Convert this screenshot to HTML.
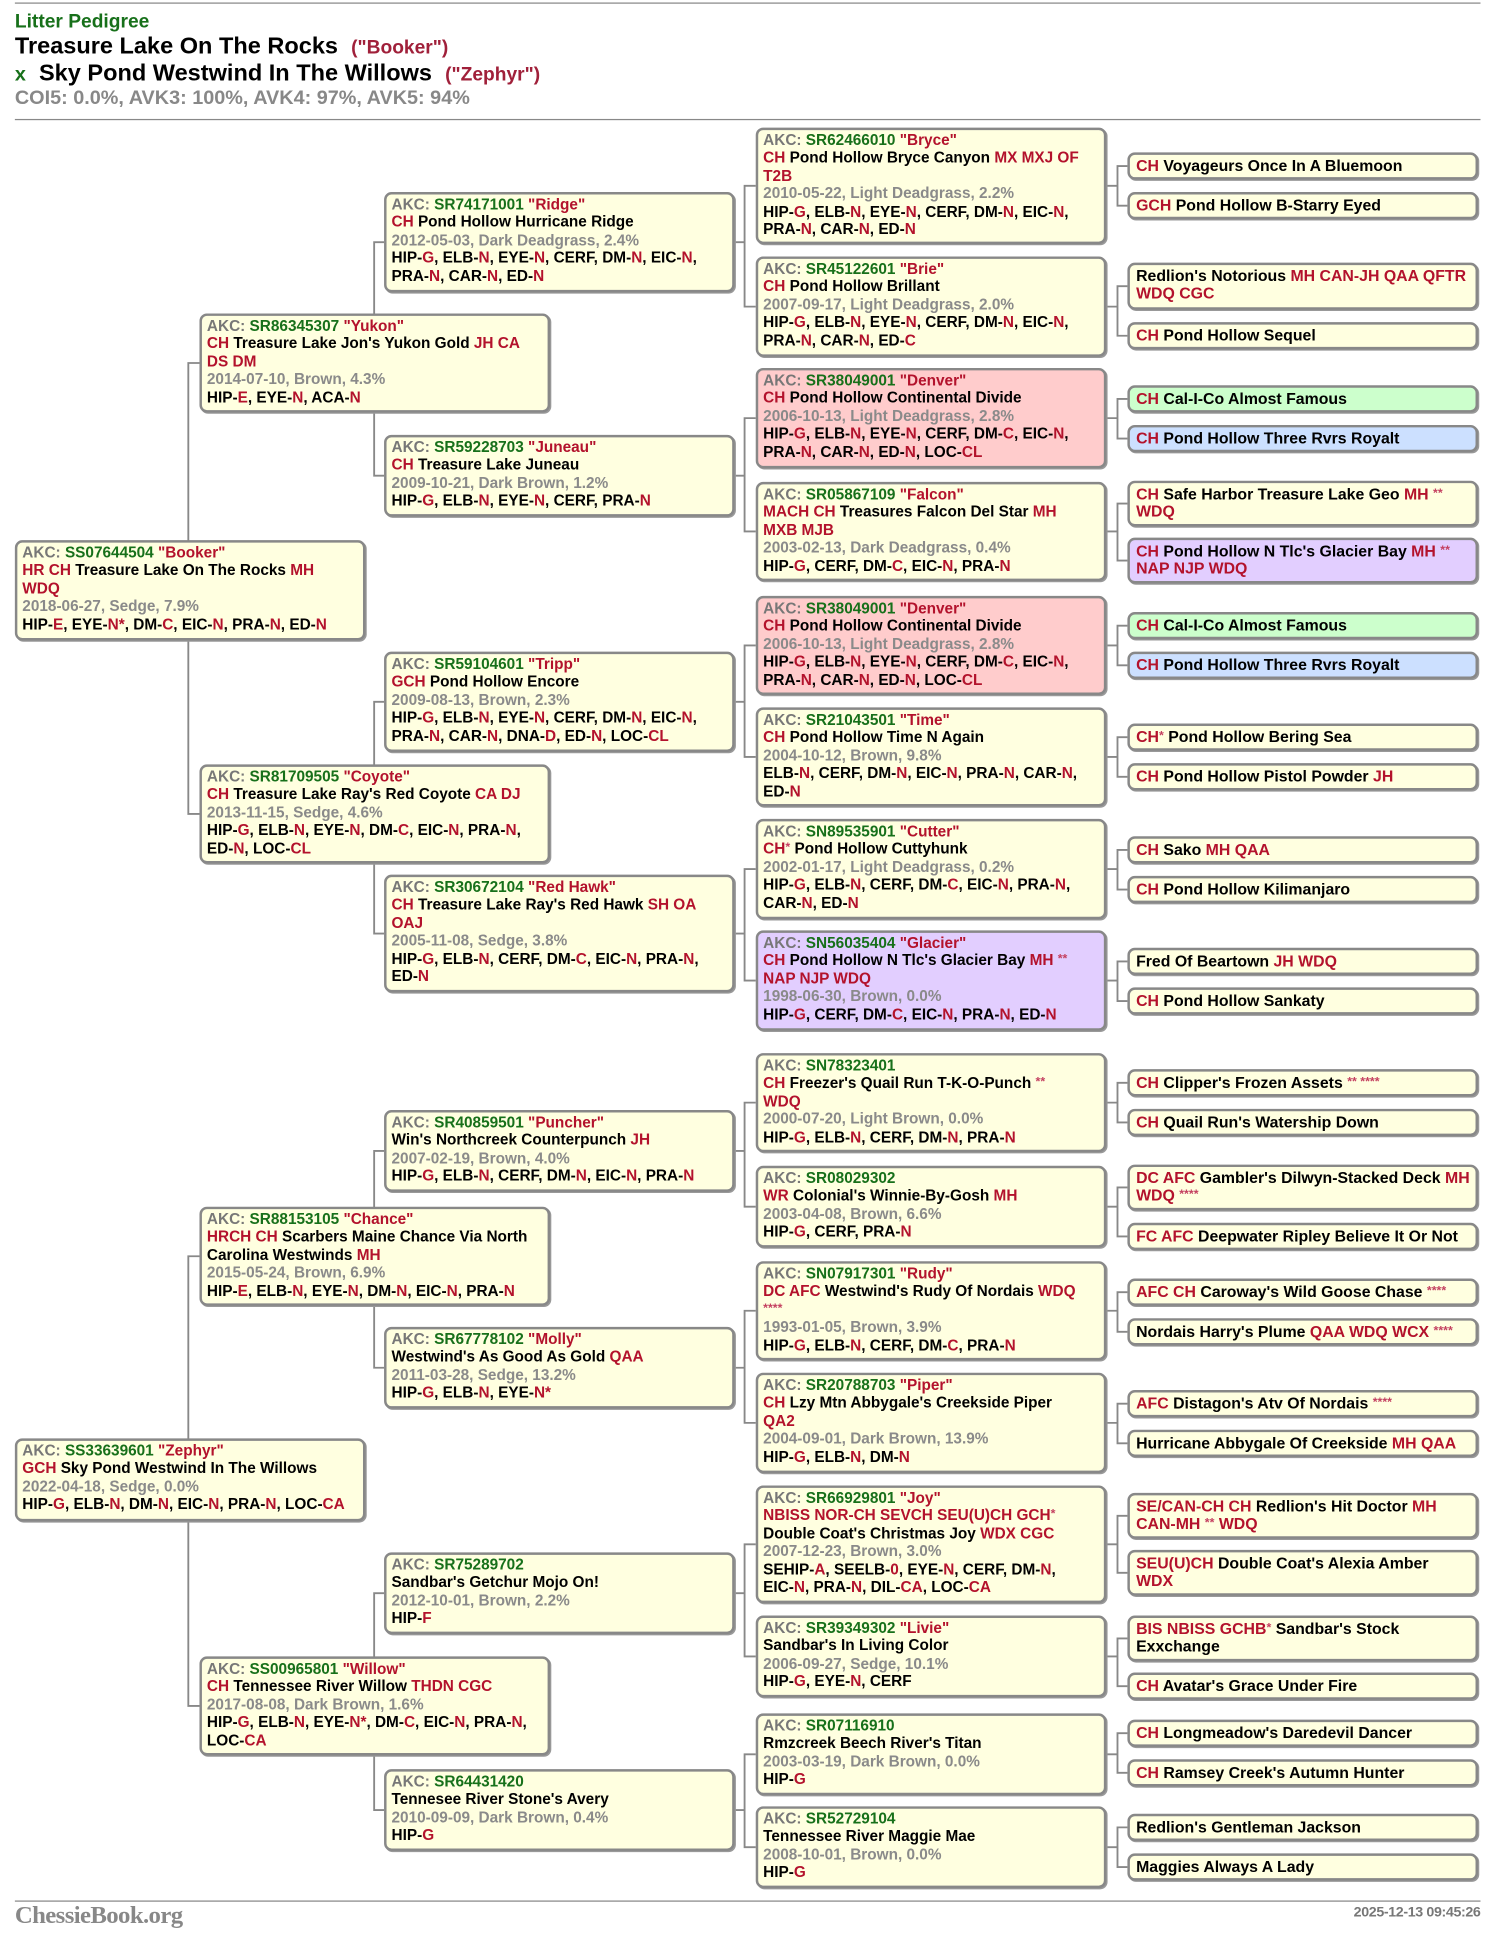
<!DOCTYPE html>
<html><head><meta charset="utf-8"><style>
html,body{margin:0;padding:0;background:#fff;}
body{width:1499px;height:1948px;overflow:hidden;}
#w{position:absolute;left:0;top:0;width:1210px;height:1573px;transform:scale(1.2389);transform-origin:0 0;font-family:"Liberation Sans",Arial,sans-serif;font-weight:bold;}
.b{position:absolute;box-sizing:border-box;width:283px;border:2px solid #888;border-radius:6px;background:#ffffe0;box-shadow:1px 1px 0 #999;padding:1px 3px 0 4px;font-size:12.4px;line-height:14.4px;letter-spacing:0;white-space:nowrap;color:#000;overflow:hidden;}
.p{background:#ffcccc}.v{background:#e2ceff}.gr{background:#ccffcc}.bl{background:#cce0ff}
.f5{padding-top:2px;font-size:12.8px;padding-left:5px;}
.r{color:#b3122c}.g{color:#17701a}.k{color:#777}.d{color:#8a8a8a}.s{color:#c44060;font-size:10px;vertical-align:top;}
svg{position:absolute;left:0;top:0;}
.hd{position:absolute;left:12px;}
</style></head><body><div id="w">
<div style="position:absolute;left:12px;top:2px;width:1183px;border-top:1px solid #888"></div>
<div class="hd" style="top:9px;font-size:15.5px;color:#17701a">Litter Pedigree</div>
<div class="hd" style="top:27px;font-size:19px;">Treasure Lake On The Rocks&nbsp; <span style="font-size:15.5px;color:#a0203a">("Booker")</span></div>
<div class="hd" style="top:49px;font-size:19px;"><span class="g" style="font-size:16px">x</span>&nbsp; Sky Pond Westwind In The Willows&nbsp; <span style="font-size:15.5px;color:#a0203a">("Zephyr")</span></div>
<div class="hd" style="top:71px;font-size:16px;color:#888">COI5: 0.0%, AVK3: 100%, AVK4: 97%, AVK5: 94%</div>
<div style="position:absolute;left:12px;top:96px;width:1183px;border-top:1px solid #888"></div>

<svg width="1210" height="1573" stroke="#888" stroke-width="1.5" fill="none">
<path d="M161 293H152V657H161 M161 1014H152V1377H161"/>
<path d="M310 195.5H302V384H310 M310 566.5H302V753.5H310 M310 929H302V1104H310 M310 1286H302V1461H310"/>
<path d="M593 195.5H601 M593 384H601 M593 566.5H601 M593 753.5H601 M593 929H601 M593 1104H601 M593 1286H601 M593 1461H601"/>
<path d="M610 150H601V247.5H610 M610 337.5H601V429H610 M610 521H601V611H610 M610 701.5H601V791.5H610 M610 890H601V974H610 M610 1058H601V1148.5H610 M610 1246.5H601V1337H610 M610 1416H601V1491H610"/>
<path d="M893 150H902 M893 247.5H902 M893 337.5H902 M893 429H902 M893 521H902 M893 611H902 M893 701.5H902 M893 791.5H902 M893 890H902 M893 974H902 M893 1058H902 M893 1148.5H902 M893 1246.5H902 M893 1337H902 M893 1416H902 M893 1491H902"/>
<path d="M910 134H902V166H910 M910 231H902V271H910 M910 322H902V354H910 M910 406.5H902V452.5H910 M910 505H902V537H910 M910 595H902V627H910 M910 686H902V718H910 M910 776H902V808H910 M910 874H902V906H910 M910 958.5H902V998H910 M910 1043H902V1075H910 M910 1133H902V1165H910 M910 1223.5H902V1269.5H910 M910 1322.5H902V1361H910 M910 1399H902V1431H910 M910 1475H902V1507H910"/>
</svg>

<!-- Gen1 -->
<div class="b" style="left:12px;top:436px;height:81px"><span class="k">AKC: </span><span class="g">SS07644504</span> <span class="r">"Booker"</span><br><span class="r">HR CH</span> Treasure Lake On The Rocks <span class="r">MH</span><br><span class="r">WDQ</span><br><span class="d">2018-06-27, Sedge, 7.9%</span><br>HIP-<span class="r">E</span>, EYE-<span class="r">N*</span>, DM-<span class="r">C</span>, EIC-<span class="r">N</span>, PRA-<span class="r">N</span>, ED-<span class="r">N</span></div>
<div class="b" style="left:12px;top:1161px;height:67px"><span class="k">AKC: </span><span class="g">SS33639601</span> <span class="r">"Zephyr"</span><br><span class="r">GCH</span> Sky Pond Westwind In The Willows<br><span class="d">2022-04-18, Sedge, 0.0%</span><br>HIP-<span class="r">G</span>, ELB-<span class="r">N</span>, DM-<span class="r">N</span>, EIC-<span class="r">N</span>, PRA-<span class="r">N</span>, LOC-<span class="r">CA</span></div>

<!-- Gen2 -->
<div class="b" style="left:161px;top:253px;height:80px"><span class="k">AKC: </span><span class="g">SR86345307</span> <span class="r">"Yukon"</span><br><span class="r">CH</span> Treasure Lake Jon's Yukon Gold <span class="r">JH CA</span><br><span class="r">DS DM</span><br><span class="d">2014-07-10, Brown, 4.3%</span><br>HIP-<span class="r">E</span>, EYE-<span class="r">N</span>, ACA-<span class="r">N</span></div>
<div class="b" style="left:161px;top:617px;height:80px"><span class="k">AKC: </span><span class="g">SR81709505</span> <span class="r">"Coyote"</span><br><span class="r">CH</span> Treasure Lake Ray's Red Coyote <span class="r">CA DJ</span><br><span class="d">2013-11-15, Sedge, 4.6%</span><br>HIP-<span class="r">G</span>, ELB-<span class="r">N</span>, EYE-<span class="r">N</span>, DM-<span class="r">C</span>, EIC-<span class="r">N</span>, PRA-<span class="r">N</span>,<br>ED-<span class="r">N</span>, LOC-<span class="r">CL</span></div>
<div class="b" style="left:161px;top:974px;height:80px"><span class="k">AKC: </span><span class="g">SR88153105</span> <span class="r">"Chance"</span><br><span class="r">HRCH CH</span> Scarbers Maine Chance Via North<br>Carolina Westwinds <span class="r">MH</span><br><span class="d">2015-05-24, Brown, 6.9%</span><br>HIP-<span class="r">E</span>, ELB-<span class="r">N</span>, EYE-<span class="r">N</span>, DM-<span class="r">N</span>, EIC-<span class="r">N</span>, PRA-<span class="r">N</span></div>
<div class="b" style="left:161px;top:1337px;height:80px"><span class="k">AKC: </span><span class="g">SS00965801</span> <span class="r">"Willow"</span><br><span class="r">CH</span> Tennessee River Willow <span class="r">THDN CGC</span><br><span class="d">2017-08-08, Dark Brown, 1.6%</span><br>HIP-<span class="r">G</span>, ELB-<span class="r">N</span>, EYE-<span class="r">N*</span>, DM-<span class="r">C</span>, EIC-<span class="r">N</span>, PRA-<span class="r">N</span>,<br>LOC-<span class="r">CA</span></div>

<!-- Gen3 -->
<div class="b" style="left:310px;top:155px;height:81px"><span class="k">AKC: </span><span class="g">SR74171001</span> <span class="r">"Ridge"</span><br><span class="r">CH</span> Pond Hollow Hurricane Ridge<br><span class="d">2012-05-03, Dark Deadgrass, 2.4%</span><br>HIP-<span class="r">G</span>, ELB-<span class="r">N</span>, EYE-<span class="r">N</span>, CERF, DM-<span class="r">N</span>, EIC-<span class="r">N</span>,<br>PRA-<span class="r">N</span>, CAR-<span class="r">N</span>, ED-<span class="r">N</span></div>
<div class="b" style="left:310px;top:351px;height:66px"><span class="k">AKC: </span><span class="g">SR59228703</span> <span class="r">"Juneau"</span><br><span class="r">CH</span> Treasure Lake Juneau<br><span class="d">2009-10-21, Dark Brown, 1.2%</span><br>HIP-<span class="r">G</span>, ELB-<span class="r">N</span>, EYE-<span class="r">N</span>, CERF, PRA-<span class="r">N</span></div>
<div class="b" style="left:310px;top:526px;height:81px"><span class="k">AKC: </span><span class="g">SR59104601</span> <span class="r">"Tripp"</span><br><span class="r">GCH</span> Pond Hollow Encore<br><span class="d">2009-08-13, Brown, 2.3%</span><br>HIP-<span class="r">G</span>, ELB-<span class="r">N</span>, EYE-<span class="r">N</span>, CERF, DM-<span class="r">N</span>, EIC-<span class="r">N</span>,<br>PRA-<span class="r">N</span>, CAR-<span class="r">N</span>, DNA-<span class="r">D</span>, ED-<span class="r">N</span>, LOC-<span class="r">CL</span></div>
<div class="b" style="left:310px;top:706px;height:95px"><span class="k">AKC: </span><span class="g">SR30672104</span> <span class="r">"Red Hawk"</span><br><span class="r">CH</span> Treasure Lake Ray's Red Hawk <span class="r">SH OA</span><br><span class="r">OAJ</span><br><span class="d">2005-11-08, Sedge, 3.8%</span><br>HIP-<span class="r">G</span>, ELB-<span class="r">N</span>, CERF, DM-<span class="r">C</span>, EIC-<span class="r">N</span>, PRA-<span class="r">N</span>,<br>ED-<span class="r">N</span></div>
<div class="b" style="left:310px;top:896px;height:66px"><span class="k">AKC: </span><span class="g">SR40859501</span> <span class="r">"Puncher"</span><br>Win's Northcreek Counterpunch <span class="r">JH</span><br><span class="d">2007-02-19, Brown, 4.0%</span><br>HIP-<span class="r">G</span>, ELB-<span class="r">N</span>, CERF, DM-<span class="r">N</span>, EIC-<span class="r">N</span>, PRA-<span class="r">N</span></div>
<div class="b" style="left:310px;top:1071px;height:66px"><span class="k">AKC: </span><span class="g">SR67778102</span> <span class="r">"Molly"</span><br>Westwind's As Good As Gold <span class="r">QAA</span><br><span class="d">2011-03-28, Sedge, 13.2%</span><br>HIP-<span class="r">G</span>, ELB-<span class="r">N</span>, EYE-<span class="r">N*</span></div>
<div class="b" style="left:310px;top:1253px;height:66px"><span class="k">AKC: </span><span class="g">SR75289702</span><br>Sandbar's Getchur Mojo On!<br><span class="d">2012-10-01, Brown, 2.2%</span><br>HIP-<span class="r">F</span></div>
<div class="b" style="left:310px;top:1428px;height:66px"><span class="k">AKC: </span><span class="g">SR64431420</span><br>Tennesee River Stone's Avery<br><span class="d">2010-09-09, Dark Brown, 0.4%</span><br>HIP-<span class="r">G</span></div>

<!-- Gen4 -->
<div class="b" style="left:610px;top:103px;height:94px"><span class="k">AKC: </span><span class="g">SR62466010</span> <span class="r">"Bryce"</span><br><span class="r">CH</span> Pond Hollow Bryce Canyon <span class="r">MX MXJ OF</span><br><span class="r">T2B</span><br><span class="d">2010-05-22, Light Deadgrass, 2.2%</span><br>HIP-<span class="r">G</span>, ELB-<span class="r">N</span>, EYE-<span class="r">N</span>, CERF, DM-<span class="r">N</span>, EIC-<span class="r">N</span>,<br>PRA-<span class="r">N</span>, CAR-<span class="r">N</span>, ED-<span class="r">N</span></div>
<div class="b" style="left:610px;top:207px;height:81px"><span class="k">AKC: </span><span class="g">SR45122601</span> <span class="r">"Brie"</span><br><span class="r">CH</span> Pond Hollow Brillant<br><span class="d">2007-09-17, Light Deadgrass, 2.0%</span><br>HIP-<span class="r">G</span>, ELB-<span class="r">N</span>, EYE-<span class="r">N</span>, CERF, DM-<span class="r">N</span>, EIC-<span class="r">N</span>,<br>PRA-<span class="r">N</span>, CAR-<span class="r">N</span>, ED-<span class="r">C</span></div>
<div class="b p" style="left:610px;top:297px;height:81px"><span class="k">AKC: </span><span class="g">SR38049001</span> <span class="r">"Denver"</span><br><span class="r">CH</span> Pond Hollow Continental Divide<br><span class="d">2006-10-13, Light Deadgrass, 2.8%</span><br>HIP-<span class="r">G</span>, ELB-<span class="r">N</span>, EYE-<span class="r">N</span>, CERF, DM-<span class="r">C</span>, EIC-<span class="r">N</span>,<br>PRA-<span class="r">N</span>, CAR-<span class="r">N</span>, ED-<span class="r">N</span>, LOC-<span class="r">CL</span></div>
<div class="b" style="left:610px;top:389px;height:80px"><span class="k">AKC: </span><span class="g">SR05867109</span> <span class="r">"Falcon"</span><br><span class="r">MACH CH</span> Treasures Falcon Del Star <span class="r">MH</span><br><span class="r">MXB MJB</span><br><span class="d">2003-02-13, Dark Deadgrass, 0.4%</span><br>HIP-<span class="r">G</span>, CERF, DM-<span class="r">C</span>, EIC-<span class="r">N</span>, PRA-<span class="r">N</span></div>
<div class="b p" style="left:610px;top:481px;height:80px"><span class="k">AKC: </span><span class="g">SR38049001</span> <span class="r">"Denver"</span><br><span class="r">CH</span> Pond Hollow Continental Divide<br><span class="d">2006-10-13, Light Deadgrass, 2.8%</span><br>HIP-<span class="r">G</span>, ELB-<span class="r">N</span>, EYE-<span class="r">N</span>, CERF, DM-<span class="r">C</span>, EIC-<span class="r">N</span>,<br>PRA-<span class="r">N</span>, CAR-<span class="r">N</span>, ED-<span class="r">N</span>, LOC-<span class="r">CL</span></div>
<div class="b" style="left:610px;top:571px;height:80px"><span class="k">AKC: </span><span class="g">SR21043501</span> <span class="r">"Time"</span><br><span class="r">CH</span> Pond Hollow Time N Again<br><span class="d">2004-10-12, Brown, 9.8%</span><br>ELB-<span class="r">N</span>, CERF, DM-<span class="r">N</span>, EIC-<span class="r">N</span>, PRA-<span class="r">N</span>, CAR-<span class="r">N</span>,<br>ED-<span class="r">N</span></div>
<div class="b" style="left:610px;top:661px;height:81px"><span class="k">AKC: </span><span class="g">SN89535901</span> <span class="r">"Cutter"</span><br><span class="r">CH<span class="s">*</span></span> Pond Hollow Cuttyhunk<br><span class="d">2002-01-17, Light Deadgrass, 0.2%</span><br>HIP-<span class="r">G</span>, ELB-<span class="r">N</span>, CERF, DM-<span class="r">C</span>, EIC-<span class="r">N</span>, PRA-<span class="r">N</span>,<br>CAR-<span class="r">N</span>, ED-<span class="r">N</span></div>
<div class="b v" style="left:610px;top:751px;height:81px"><span class="k">AKC: </span><span class="g">SN56035404</span> <span class="r">"Glacier"</span><br><span class="r">CH</span> Pond Hollow N Tlc's Glacier Bay <span class="r">MH</span> <span class="s">**</span><br><span class="r">NAP NJP WDQ</span><br><span class="d">1998-06-30, Brown, 0.0%</span><br>HIP-<span class="r">G</span>, CERF, DM-<span class="r">C</span>, EIC-<span class="r">N</span>, PRA-<span class="r">N</span>, ED-<span class="r">N</span></div>
<div class="b" style="left:610px;top:850px;height:80px"><span class="k">AKC: </span><span class="g">SN78323401</span><br><span class="r">CH</span> Freezer's Quail Run T-K-O-Punch <span class="s">**</span><br><span class="r">WDQ</span><br><span class="d">2000-07-20, Light Brown, 0.0%</span><br>HIP-<span class="r">G</span>, ELB-<span class="r">N</span>, CERF, DM-<span class="r">N</span>, PRA-<span class="r">N</span></div>
<div class="b" style="left:610px;top:941px;height:66px"><span class="k">AKC: </span><span class="g">SR08029302</span><br><span class="r">WR</span> Colonial's Winnie-By-Gosh <span class="r">MH</span><br><span class="d">2003-04-08, Brown, 6.6%</span><br>HIP-<span class="r">G</span>, CERF, PRA-<span class="r">N</span></div>
<div class="b" style="left:610px;top:1018px;height:80px"><span class="k">AKC: </span><span class="g">SN07917301</span> <span class="r">"Rudy"</span><br><span class="r">DC AFC</span> Westwind's Rudy Of Nordais <span class="r">WDQ</span><br><span class="s">****</span><br><span class="d">1993-01-05, Brown, 3.9%</span><br>HIP-<span class="r">G</span>, ELB-<span class="r">N</span>, CERF, DM-<span class="r">C</span>, PRA-<span class="r">N</span></div>
<div class="b" style="left:610px;top:1108px;height:81px"><span class="k">AKC: </span><span class="g">SR20788703</span> <span class="r">"Piper"</span><br><span class="r">CH</span> Lzy Mtn Abbygale's Creekside Piper<br><span class="r">QA2</span><br><span class="d">2004-09-01, Dark Brown, 13.9%</span><br>HIP-<span class="r">G</span>, ELB-<span class="r">N</span>, DM-<span class="r">N</span></div>
<div class="b" style="left:610px;top:1199px;height:95px"><span class="k">AKC: </span><span class="g">SR66929801</span> <span class="r">"Joy"</span><br><span class="r">NBISS NOR-CH SEVCH SEU(U)CH GCH<span class="s">*</span></span><br>Double Coat's Christmas Joy <span class="r">WDX CGC</span><br><span class="d">2007-12-23, Brown, 3.0%</span><br>SEHIP-<span class="r">A</span>, SEELB-<span class="r">0</span>, EYE-<span class="r">N</span>, CERF, DM-<span class="r">N</span>,<br>EIC-<span class="r">N</span>, PRA-<span class="r">N</span>, DIL-<span class="r">CA</span>, LOC-<span class="r">CA</span></div>
<div class="b" style="left:610px;top:1304px;height:66px"><span class="k">AKC: </span><span class="g">SR39349302</span> <span class="r">"Livie"</span><br>Sandbar's In Living Color<br><span class="d">2006-09-27, Sedge, 10.1%</span><br>HIP-<span class="r">G</span>, EYE-<span class="r">N</span>, CERF</div>
<div class="b" style="left:610px;top:1383px;height:66px"><span class="k">AKC: </span><span class="g">SR07116910</span><br>Rmzcreek Beech River's Titan<br><span class="d">2003-03-19, Dark Brown, 0.0%</span><br>HIP-<span class="r">G</span></div>
<div class="b" style="left:610px;top:1458px;height:66px"><span class="k">AKC: </span><span class="g">SR52729104</span><br>Tennessee River Maggie Mae<br><span class="d">2008-10-01, Brown, 0.0%</span><br>HIP-<span class="r">G</span></div>

<!-- Gen5 -->
<div class="b f5" style="left:910px;top:123px;height:22px"><span class="r">CH</span> Voyageurs Once In A Bluemoon</div>
<div class="b f5" style="left:910px;top:155px;height:22px"><span class="r">GCH</span> Pond Hollow B-Starry Eyed</div>
<div class="b f5" style="left:910px;top:212px;height:38px">Redlion's Notorious <span class="r">MH CAN-JH QAA QFTR</span><br><span class="r">WDQ CGC</span></div>
<div class="b f5" style="left:910px;top:260px;height:22px"><span class="r">CH</span> Pond Hollow Sequel</div>
<div class="b f5 gr" style="left:910px;top:311px;height:22px"><span class="r">CH</span> Cal-I-Co Almost Famous</div>
<div class="b f5 bl" style="left:910px;top:343px;height:22px"><span class="r">CH</span> Pond Hollow Three Rvrs Royalt</div>
<div class="b f5" style="left:910px;top:388px;height:37px"><span class="r">CH</span> Safe Harbor Treasure Lake Geo <span class="r">MH</span> <span class="s">**</span><br><span class="r">WDQ</span></div>
<div class="b f5 v" style="left:910px;top:434px;height:37px"><span class="r">CH</span> Pond Hollow N Tlc's Glacier Bay <span class="r">MH</span> <span class="s">**</span><br><span class="r">NAP NJP WDQ</span></div>
<div class="b f5 gr" style="left:910px;top:494px;height:22px"><span class="r">CH</span> Cal-I-Co Almost Famous</div>
<div class="b f5 bl" style="left:910px;top:526px;height:22px"><span class="r">CH</span> Pond Hollow Three Rvrs Royalt</div>
<div class="b f5" style="left:910px;top:584px;height:22px"><span class="r">CH<span class="s">*</span></span> Pond Hollow Bering Sea</div>
<div class="b f5" style="left:910px;top:616px;height:22px"><span class="r">CH</span> Pond Hollow Pistol Powder <span class="r">JH</span></div>
<div class="b f5" style="left:910px;top:675px;height:22px"><span class="r">CH</span> Sako <span class="r">MH QAA</span></div>
<div class="b f5" style="left:910px;top:707px;height:22px"><span class="r">CH</span> Pond Hollow Kilimanjaro</div>
<div class="b f5" style="left:910px;top:765px;height:22px">Fred Of Beartown <span class="r">JH WDQ</span></div>
<div class="b f5" style="left:910px;top:797px;height:22px"><span class="r">CH</span> Pond Hollow Sankaty</div>
<div class="b f5" style="left:910px;top:863px;height:22px"><span class="r">CH</span> Clipper's Frozen Assets <span class="s">** ****</span></div>
<div class="b f5" style="left:910px;top:895px;height:22px"><span class="r">CH</span> Quail Run's Watership Down</div>
<div class="b f5" style="left:910px;top:940px;height:37px"><span class="r">DC AFC</span> Gambler's Dilwyn-Stacked Deck <span class="r">MH</span><br><span class="r">WDQ</span> <span class="s">****</span></div>
<div class="b f5" style="left:910px;top:987px;height:22px"><span class="r">FC AFC</span> Deepwater Ripley Believe It Or Not</div>
<div class="b f5" style="left:910px;top:1032px;height:22px"><span class="r">AFC CH</span> Caroway's Wild Goose Chase <span class="s">****</span></div>
<div class="b f5" style="left:910px;top:1064px;height:22px">Nordais Harry's Plume <span class="r">QAA WDQ WCX</span> <span class="s">****</span></div>
<div class="b f5" style="left:910px;top:1122px;height:22px"><span class="r">AFC</span> Distagon's Atv Of Nordais <span class="s">****</span></div>
<div class="b f5" style="left:910px;top:1154px;height:22px">Hurricane Abbygale Of Creekside <span class="r">MH QAA</span></div>
<div class="b f5" style="left:910px;top:1205px;height:37px"><span class="r">SE/CAN-CH CH</span> Redlion's Hit Doctor <span class="r">MH</span><br><span class="r">CAN-MH</span> <span class="s">**</span> <span class="r">WDQ</span></div>
<div class="b f5" style="left:910px;top:1251px;height:37px"><span class="r">SEU(U)CH</span> Double Coat's Alexia Amber<br><span class="r">WDX</span></div>
<div class="b f5" style="left:910px;top:1304px;height:37px"><span class="r">BIS NBISS GCHB<span class="s">*</span></span> Sandbar's Stock<br>Exxchange</div>
<div class="b f5" style="left:910px;top:1350px;height:22px"><span class="r">CH</span> Avatar's Grace Under Fire</div>
<div class="b f5" style="left:910px;top:1388px;height:22px"><span class="r">CH</span> Longmeadow's Daredevil Dancer</div>
<div class="b f5" style="left:910px;top:1420px;height:22px"><span class="r">CH</span> Ramsey Creek's Autumn Hunter</div>
<div class="b f5" style="left:910px;top:1464px;height:22px">Redlion's Gentleman Jackson</div>
<div class="b f5" style="left:910px;top:1496px;height:22px">Maggies Always A Lady</div>

<div style="position:absolute;left:12px;top:1534px;width:1183px;border-top:1px solid #888"></div>
<div style="position:absolute;left:12px;top:1535px;font-family:'Liberation Serif',serif;font-size:20px;color:#888;letter-spacing:-0.5px">ChessieBook.org</div>
<div style="position:absolute;right:15px;top:1538px;font-size:11.5px;color:#777;letter-spacing:-0.3px">2025-12-13 09:45:26</div>
</div></body></html>
